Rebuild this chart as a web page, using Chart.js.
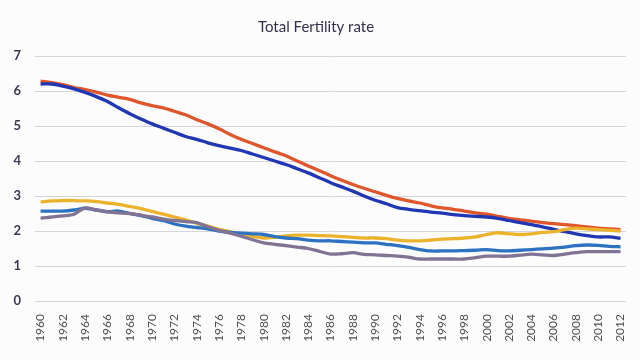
<!DOCTYPE html>
<html>
<head>
<meta charset="utf-8">
<script src="https://cdn.jsdelivr.net/npm/chart.js@4"></script>
<style>
  html, body { margin: 0; padding: 0; background: #fcfcfd; }
  #wrap { width: 640px; height: 360px; position: relative; }
</style>
</head>
<body>
<div id="wrap"><canvas id="c" width="640" height="360"></canvas></div>
<script>
const years = [];
for (let y = 1960; y <= 2012; y++) years.push(String(y));

const seriesNames = ["Series 1", "Series 2", "Series 3", "Series 4", "Series 5"];

const redSeries = [6.28,6.24,6.18,6.10,6.04,5.97,5.88,5.82,5.76,5.66,5.58,5.52,5.42,5.32,5.18,5.06,4.92,4.76,4.62,4.50,4.38,4.26,4.15,4.00,3.86,3.72,3.58,3.45,3.33,3.22,3.12,3.02,2.93,2.86,2.80,2.72,2.66,2.62,2.57,2.52,2.48,2.42,2.36,2.32,2.28,2.24,2.21,2.18,2.15,2.12,2.08,2.06,2.04];

const darkBlueSeries = [6.20,6.20,6.14,6.06,5.96,5.84,5.70,5.52,5.35,5.20,5.06,4.94,4.82,4.70,4.62,4.52,4.44,4.37,4.30,4.20,4.10,4.00,3.90,3.78,3.66,3.52,3.38,3.26,3.14,3.00,2.88,2.78,2.67,2.62,2.58,2.54,2.51,2.47,2.44,2.42,2.40,2.36,2.30,2.24,2.18,2.12,2.05,1.98,1.92,1.87,1.83,1.83,1.79];

const yellowSeries = [2.83,2.86,2.87,2.87,2.86,2.84,2.80,2.76,2.70,2.64,2.56,2.48,2.40,2.32,2.22,2.14,2.05,1.98,1.90,1.85,1.80,1.82,1.86,1.88,1.88,1.87,1.86,1.84,1.82,1.80,1.80,1.78,1.74,1.72,1.72,1.74,1.77,1.78,1.80,1.83,1.90,1.95,1.92,1.90,1.92,1.96,1.98,2.04,2.08,2.06,2.04,2.02,2.00];

const midBlueSeries = [2.57,2.57,2.57,2.60,2.65,2.60,2.55,2.57,2.50,2.44,2.36,2.30,2.20,2.14,2.10,2.06,2.00,1.96,1.94,1.92,1.90,1.84,1.80,1.78,1.74,1.72,1.72,1.70,1.68,1.66,1.66,1.62,1.58,1.53,1.47,1.43,1.43,1.43,1.44,1.45,1.47,1.44,1.43,1.45,1.47,1.49,1.51,1.54,1.58,1.60,1.59,1.56,1.55];

const graySeries = [2.37,2.40,2.43,2.48,2.66,2.60,2.55,2.52,2.50,2.45,2.40,2.34,2.30,2.27,2.24,2.12,2.02,1.94,1.85,1.75,1.66,1.62,1.58,1.54,1.50,1.42,1.34,1.35,1.38,1.33,1.32,1.30,1.28,1.25,1.20,1.20,1.20,1.20,1.20,1.24,1.28,1.28,1.28,1.31,1.34,1.32,1.30,1.34,1.38,1.41,1.41,1.41,1.41];

const yTicks = [0,1,2,3,4,5,6,7];

const colors = ["#E0562C", "#2136B2", "#EBB22C", "#2C72C0", "#807394"];
const allSeries = [redSeries, darkBlueSeries, yellowSeries, midBlueSeries, graySeries];
const order = [4, 3, 2, 1, 0];

new Chart(document.getElementById('c'), {
  type: 'line',
  data: {
    labels: years,
    datasets: allSeries.map((d, i) => ({
      label: seriesNames[i],
      data: d,
      borderColor: colors[i],
      backgroundColor: colors[i],
      borderWidth: 3.3,
      pointRadius: 0,
      tension: 0.3,
      order: order[i]
    }))
  },
  options: {
    responsive: false,
    animation: false,
    layout: { padding: { left: 0, right: 8, top: 0, bottom: 0 } },
    plugins: {
      legend: { display: false },
      tooltip: { enabled: false },
      title: {
        display: true,
        text: 'Total Fertility rate',
        color: '#35304a',
        font: { family: 'Lato', size: 15, weight: 'normal' },
        padding: { top: 18, bottom: 20 }
      }
    },
    scales: {
      x: {
        type: 'category',
        offset: true,
        grid: { display: false },
        border: { display: false },
        ticks: {
          autoSkip: false,
          minRotation: 90,
          maxRotation: 90,
          padding: 5,
          color: '#505050',
          font: { family: 'Lato', size: 12 },
          callback: function (v, i) {
            const lab = this.getLabelForValue(v);
            return (Number(lab) % 2 === 0) ? lab : '';
          }
        },
        afterFit: s => { s.height = 59; }
      },
      y: {
        min: 0,
        max: 7,
        afterBuildTicks: s => { s.ticks = yTicks.map(v => ({ value: v })); },
        grid: { color: '#d6d5de', lineWidth: 1, drawTicks: false },
        border: { display: false },
        ticks: {
          padding: 14,
          color: '#3c3850',
          font: { family: 'Lato', size: 13, weight: 'bold' }
        },
        afterFit: s => { s.width = 35; }
      }
    }
  }
});
</script>
</body>
</html>
